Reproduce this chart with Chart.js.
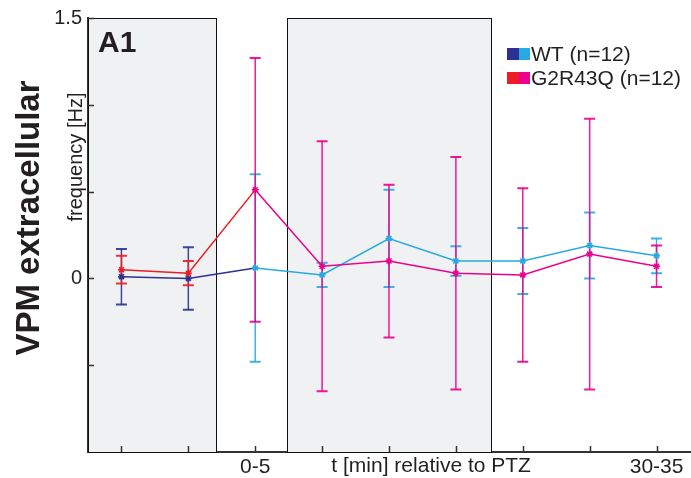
<!DOCTYPE html>
<html>
<head>
<meta charset="utf-8">
<script src="https://cdn.jsdelivr.net/npm/chart.js@4.4.0/dist/chart.umd.min.js"></script>
<style>
  html, body { margin: 0; padding: 0; background: #fff; }
  #wrap { position: relative; width: 691px; height: 478px; }
</style>
</head>
<body>
<div id="wrap"><canvas id="chart" width="691" height="478"></canvas></div>
<script>
// 5 min time bins, only two of them carry a label
const bins = [0, 1, 2, 3, 4, 5, 6, 7, 8];
const binLabels = ['', '', '0-5', '', '', '', '', '', '30-35'];
const yTickValues = [-0.5, 0, 0.5, 1, 1.5];
const yTickLabels = ['', '0', '', '', '1.5'];

// change in firing frequency [Hz], mean and error per bin
const wtMean = [0.01, 0.0, 0.06, 0.02, 0.23, 0.10, 0.10, 0.19, 0.13];
const wtErr = [0.16, 0.18, 0.54, 0.07, 0.28, 0.085, 0.19, 0.19, 0.10];
const mutMean = [0.05, 0.03, 0.51, 0.07, 0.10, 0.03, 0.02, 0.14, 0.07];
const mutErr = [0.08, 0.07, 0.76, 0.72, 0.44, 0.67, 0.50, 0.78, 0.12];

// grey windows, in bin units
const shadedRanges = [[-0.5, 1.41], [2.47, 5.52]];

const FONT = '"Liberation Sans", Arial, Helvetica, sans-serif';
const colors = {
    wtPre: '#2e3192', wtPost: '#27aae1',
    mutPre: '#ed1c24', mutPost: '#ec008c',
    axis: '#333333', text: '#231f20', box: '#f0f1f3'
};
const PRE_BINS = 2; // bins before PTZ get the darker colour

const makeSet = (label, mean, err, pre, post) => ({
    label,
    data: bins.map((b, i) => ({ x: b, y: mean[i] })),
    err,
    pre,
    post,
    borderColor: post,
    borderWidth: 1.5,
    pointStyle: 'star',
    pointRadius: 3.5,
    pointBorderWidth: 1.5,
    pointBorderColor: bins.map(i => i < PRE_BINS ? pre : post),
    pointBackgroundColor: bins.map(i => i < PRE_BINS ? pre : post),
    segment: {
        borderColor: c => c.p0DataIndex < PRE_BINS ? pre : post
    },
    tension: 0
});

// shaded boxes + error bars, underneath the lines
const backdrop = {
    id: 'backdrop',
    beforeDatasetsDraw(chart) {
        const { ctx, chartArea, scales: { x, y } } = chart;
        ctx.save();
        shadedRanges.forEach(([a, b]) => {
            const x0 = Math.round(x.getPixelForValue(a)) + 0.5;
            const x1 = Math.round(x.getPixelForValue(b)) + 0.5;
            ctx.fillStyle = colors.box;
            ctx.fillRect(x0, chartArea.top, x1 - x0, chartArea.bottom - chartArea.top);
            ctx.strokeStyle = '#111';
            ctx.lineWidth = 1;
            ctx.strokeRect(x0, chartArea.top + 0.5, x1 - x0, chartArea.bottom - chartArea.top);
        });

        // WT first so the mutant bars sit on top
        [chart.data.datasets[1], chart.data.datasets[0]].forEach(ds => {
            ds.data.forEach((p, i) => {
                const c = i < PRE_BINS ? ds.pre : ds.post;
                const px = x.getPixelForValue(p.x);
                const top = y.getPixelForValue(p.y + ds.err[i]);
                const bot = y.getPixelForValue(p.y - ds.err[i]);
                ctx.strokeStyle = c;
                ctx.globalAlpha = 0.9;
                ctx.lineWidth = 1.5;
                ctx.beginPath();
                ctx.moveTo(px, top);
                ctx.lineTo(px, bot);
                ctx.stroke();
                ctx.lineWidth = 2;
                ctx.beginPath();
                ctx.moveTo(px - 5.5, top);
                ctx.lineTo(px + 5.5, top);
                ctx.moveTo(px - 5.5, bot);
                ctx.lineTo(px + 5.5, bot);
                ctx.stroke();
            });
        });
        ctx.restore();
    }
};

// inward ticks, titles, panel letter and the two-colour legend
const decorations = {
    id: 'decorations',
    afterDraw(chart) {
        const { ctx, chartArea, scales: { x, y } } = chart;
        ctx.save();
        ctx.strokeStyle = colors.axis;
        ctx.lineWidth = 1.5;
        ctx.beginPath();
        bins.forEach(b => {
            const px = Math.round(x.getPixelForValue(b)) + 0.5;
            ctx.moveTo(px, chartArea.bottom);
            ctx.lineTo(px, chartArea.bottom - 6);
        });
        yTickValues.forEach(v => {
            const py = Math.round(y.getPixelForValue(v)) + 0.5;
            ctx.moveTo(chartArea.left, py);
            ctx.lineTo(chartArea.left + 6, py);
        });
        ctx.stroke();

        ctx.fillStyle = colors.text;
        ctx.textBaseline = 'alphabetic';

        ctx.font = 'bold 30px ' + FONT;
        ctx.textAlign = 'left';
        ctx.fillText('A1', 98, 52);

        ctx.font = '21px ' + FONT;
        ctx.textAlign = 'center';
        ctx.fillText('t [min] relative to PTZ', x.getPixelForValue(4.63), 472);

        ctx.save();
        ctx.translate(82, 157);
        ctx.rotate(-Math.PI / 2);
        ctx.font = '20px ' + FONT;
        ctx.fillText('frequency [Hz]', 0, 0);
        ctx.restore();

        ctx.save();
        ctx.translate(39, 218);
        ctx.rotate(-Math.PI / 2);
        ctx.font = 'bold 33px ' + FONT;
        ctx.fillText('VPM extracellular', 0, 0);
        ctx.restore();

        const legend = [
            ['WT (n=12)', colors.wtPre, colors.wtPost],
            ['G2R43Q (n=12)', colors.mutPre, colors.mutPost]
        ];
        ctx.font = '21px ' + FONT;
        ctx.textAlign = 'left';
        legend.forEach(([txt, c1, c2], i) => {
            const top = 48 + i * 24;
            ctx.fillStyle = c1;
            ctx.fillRect(507, top, 12, 12);
            ctx.fillStyle = c2;
            ctx.fillRect(519, top, 11, 12);
            ctx.fillStyle = colors.text;
            ctx.fillText(txt, 531, top + 13);
        });
        ctx.restore();
    }
};

new Chart(document.getElementById('chart'), {
    type: 'line',
    data: {
        datasets: [
            makeSet('G2R43Q (n=12)', mutMean, mutErr, colors.mutPre, colors.mutPost),
            makeSet('WT (n=12)', wtMean, wtErr, colors.wtPre, colors.wtPost)
        ]
    },
    options: {
        responsive: false,
        animation: false,
        layout: { autoPadding: false, padding: { top: 17, right: 1, left: 0, bottom: 0 } },
        plugins: {
            legend: { display: false },
            tooltip: { enabled: false }
        },
        scales: {
            x: {
                type: 'linear',
                min: -0.5,
                max: 8.5,
                afterBuildTicks: s => { s.ticks = bins.map(v => ({ value: v })); },
                afterFit: s => { s.height = 26; },
                grid: { display: false, drawTicks: false },
                border: { display: true, color: colors.axis, width: 2 },
                ticks: {
                    autoSkip: false,
                    maxRotation: 0,
                    padding: 3,
                    color: colors.text,
                    font: { family: FONT, size: 21 },
                    callback: v => binLabels[v] || ''
                }
            },
            y: {
                min: -1,
                max: 1.5,
                afterBuildTicks: s => { s.ticks = yTickValues.map(v => ({ value: v })); },
                afterFit: s => { s.width = 88; },
                grid: { display: false, drawTicks: false },
                border: { display: true, color: colors.axis, width: 2 },
                ticks: {
                    padding: 6,
                    color: colors.text,
                    font: { family: FONT, size: 20 },
                    callback: v => yTickLabels[yTickValues.indexOf(v)] || ''
                }
            }
        }
    },
    plugins: [backdrop, decorations]
});
</script>
</body>
</html>
